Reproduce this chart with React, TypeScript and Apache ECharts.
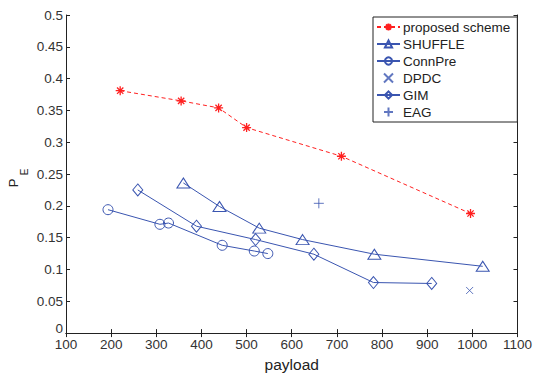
import React, { useEffect, useRef } from "react";
import * as echarts from "echarts";

const xTicks = [100, 1100];
const yRange = [0, 0.5];

const proposedX = [220, 355, 438, 500, 710, 996];
const proposedY = [0.381, 0.365, 0.354, 0.323, 0.278, 0.188];

const shuffleX = [360, 440, 528, 624, 783, 1023];
const shuffleY = [0.236, 0.199, 0.165, 0.147, 0.124, 0.105];

const connPreX = [193, 308, 327, 446, 517, 547];
const connPreY = [0.194, 0.171, 0.173, 0.138, 0.129, 0.125];

const gimX = [259, 389, 520, 649, 781, 910];
const gimY = [0.225, 0.168, 0.147, 0.124, 0.0795, 0.078];

const dpdcX = [994];
const dpdcY = [0.067];

const eagX = [660];
const eagY = [0.204];

const zip = (xs: number[], ys: number[]) => xs.map((x, i) => [x, ys[i]]);

const RED = "#ff2020";
const BLUE = "#3a55b0";
const FONT = "Liberation Sans";

const starPath = "path://M5,0L5,10M0,5L10,5M1.5,1.5L8.5,8.5M8.5,1.5L1.5,8.5";
const xPath = "path://M0,0L10,10M10,0L0,10";
const plusPath = "path://M5,0L5,10M0,5L10,5";

export default function App() {
  const ref = useRef<HTMLDivElement>(null);
  useEffect(() => {
    if (!ref.current) return;
    const chart = echarts.init(ref.current, undefined, { renderer: "svg" });
    const axisLine = { show: true, lineStyle: { color: "#222", width: 1 } };
    const axisTick = { show: true, inside: true, length: 4, lineStyle: { color: "#222" } };
    const hollow = { color: "rgba(255,255,255,0)", borderColor: BLUE, borderWidth: 1 };
    chart.setOption({
      animation: false,
      backgroundColor: "#fff",
      grid: { left: 66, right: 14, top: 15, bottom: 35, containLabel: false },
      xAxis: [
        {
          type: "value",
          min: xTicks[0],
          max: xTicks[1],
          interval: 100,
          position: "bottom",
          axisLine,
          axisTick,
          splitLine: { show: false },
          axisLabel: {
            color: "#333",
            fontSize: 13.5,
            fontFamily: FONT,
            margin: 4,
            formatter: (v: number) => String(v),
          },
          name: "payload",
          nameLocation: "middle",
          nameGap: 21,
          nameTextStyle: { color: "#222", fontSize: 15.5, fontFamily: FONT },
        },
        {
          type: "value",
          min: xTicks[0],
          max: xTicks[1],
          interval: 100,
          position: "top",
          axisLine,
          axisTick,
          splitLine: { show: false },
          axisLabel: { show: false },
        },
      ],
      yAxis: [
        {
          type: "value",
          min: yRange[0],
          max: yRange[1],
          interval: 0.05,
          position: "left",
          axisLine,
          axisTick,
          splitLine: { show: false },
          axisLabel: {
            color: "#333",
            fontSize: 13.5,
            fontFamily: FONT,
            margin: 3,
            formatter: (v: number) => (v === 0 ? "{z|0}" : String(Math.round(v * 100) / 100)),
            rich: { z: { color: "#333", fontSize: 13.5, fontFamily: FONT, padding: [0, 0, 9, 0] } },
          },
        },
        {
          type: "value",
          min: yRange[0],
          max: yRange[1],
          interval: 0.05,
          position: "right",
          axisLine,
          axisTick,
          splitLine: { show: false },
          axisLabel: { show: false },
        },
      ],
      legend: {
        orient: "vertical",
        left: 373,
        top: 17,
        padding: [3, 7, 3, 3],
        itemGap: 3,
        itemWidth: 23,
        itemHeight: 9,
        backgroundColor: "#fff",
        borderColor: "#222",
        borderWidth: 1,
        borderRadius: 0,
        textStyle: { color: "#222", fontSize: 13.5, lineHeight: 14, fontFamily: FONT, padding: [0, 0, 0, -2] },
        data: ["proposed scheme", "SHUFFLE", "ConnPre", "DPDC", "GIM", "EAG"],
      },
      graphic: [
        {
          type: "text",
          x: 13,
          y: 183,
          rotation: Math.PI / 2,
          style: { text: "P", font: `13px ${FONT}`, fill: "#222", align: "center", verticalAlign: "middle" },
        },
        {
          type: "text",
          x: 24,
          y: 172,
          rotation: Math.PI / 2,
          style: { text: "E", font: `10px ${FONT}`, fill: "#222", align: "center", verticalAlign: "middle" },
        },
      ],
      series: [
        {
          name: "proposed scheme",
          type: "line",
          data: zip(proposedX, proposedY),
          symbol: starPath,
          symbolSize: 9,
          lineStyle: { color: RED, width: 1, type: [4, 3] },
          itemStyle: { color: "rgba(0,0,0,0)", borderColor: RED, borderWidth: 1.3 },
        },
        {
          name: "SHUFFLE",
          type: "line",
          data: zip(shuffleX, shuffleY),
          symbol: "triangle",
          symbolSize: [13, 10],
          lineStyle: { color: BLUE, width: 1 },
          itemStyle: hollow,
        },
        {
          name: "ConnPre",
          type: "line",
          data: zip(connPreX, connPreY),
          symbol: "circle",
          symbolSize: 10,
          lineStyle: { color: BLUE, width: 1 },
          itemStyle: hollow,
        },
        {
          name: "DPDC",
          type: "scatter",
          data: zip(dpdcX, dpdcY),
          symbol: xPath,
          symbolSize: 7,
          itemStyle: hollow,
        },
        {
          name: "GIM",
          type: "line",
          data: zip(gimX, gimY),
          symbol: "diamond",
          symbolSize: [10, 12],
          lineStyle: { color: BLUE, width: 1 },
          itemStyle: hollow,
        },
        {
          name: "EAG",
          type: "scatter",
          data: zip(eagX, eagY),
          symbol: plusPath,
          symbolSize: 10,
          itemStyle: hollow,
        },
      ],
    });
    return () => chart.dispose();
  }, []);
  return <div ref={ref} style={{ width: 535, height: 377, position: "absolute", left: 0, top: 0 }} />;
}
